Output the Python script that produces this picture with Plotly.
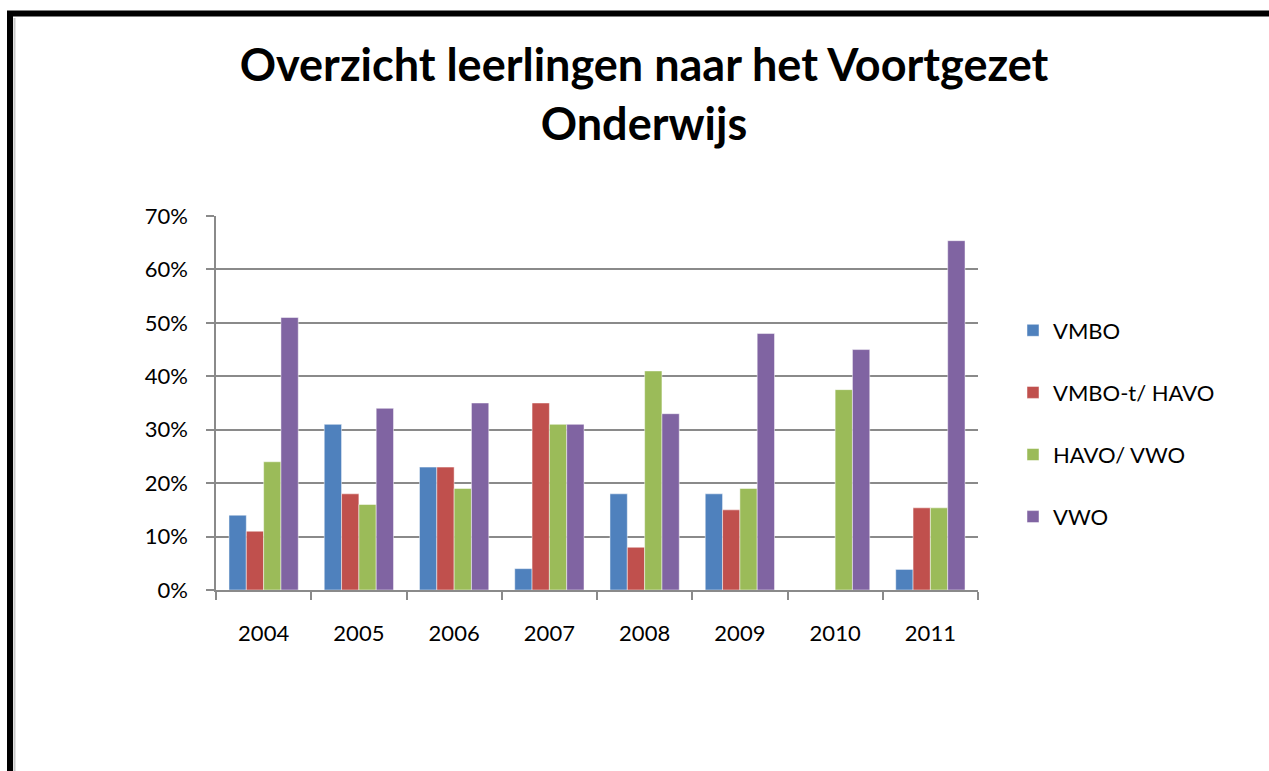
import plotly.graph_objects as go

years = ["2004", "2005", "2006", "2007", "2008", "2009", "2010", "2011"]
vmbo = [0.14, 0.31, 0.23, 0.04, 0.18, 0.18, 0.0, 0.0385]
vmbo_t_havo = [0.11, 0.18, 0.23, 0.35, 0.08, 0.15, 0.0, 0.1538]
havo_vwo = [0.24, 0.16, 0.19, 0.31, 0.41, 0.19, 0.375, 0.1538]
vwo = [0.51, 0.34, 0.35, 0.31, 0.33, 0.48, 0.45, 0.6538]

series_names = ["VMBO", "VMBO-t/ HAVO", "HAVO/ VWO", "VWO"]
series_values = [vmbo, vmbo_t_havo, havo_vwo, vwo]
colors = ["#4F81BD", "#C0504D", "#9BBB59", "#8064A2"]

W, H = 1269, 771
L, R, T, B = 216, 978, 216, 590  # plot area in pixels

fig = go.Figure()
for name, vals, col in zip(series_names, series_values, colors):
    fig.add_trace(go.Bar(
        x=years, y=vals, name=name, legendgroup=name,
        marker=dict(color=col, line=dict(color="rgba(255,255,255,0.6)", width=0.8)),
    ))

def px_x(p):
    return (p - L) / (R - L)

def px_y(p):
    return (B - p) / (B - T)

grid = "#8A8A8A"
font_family = "Lato, 'Open Sans', sans-serif"

fig.update_layout(
    width=W, height=H,
    margin=dict(l=L, r=W - R, t=T, b=H - B, pad=0),
    paper_bgcolor="white", plot_bgcolor="white",
    barmode="group", bargap=0.2727, bargroupgap=0,
    font=dict(family=font_family, color="black", size=22),
    title=dict(
        text="<b>Overzicht leerlingen naar het Voortgezet<br>Onderwijs</b>",
        font=dict(family=font_family, size=45, color="black"),
        x=644 / W, xanchor="center", xref="container",
        y=1 - 81 / H, yanchor="top", yref="container",
    ),
    showlegend=True,
    legend=dict(
        x=px_x(1013), xanchor="left", y=px_y(423.5), yanchor="middle",
        font=dict(family=font_family, size=22, color="black"),
        tracegroupgap=30.5, traceorder="grouped", bgcolor="rgba(0,0,0,0)",
    ),
    xaxis=dict(
        type="category", showgrid=False, showline=True, linecolor=grid, linewidth=1.5,
        ticks="outside", tickson="boundaries", ticklen=8, tickcolor=grid, tickwidth=1.5,
        tickfont=dict(size=22, family=font_family), ticklabelstandoff=23,
    ),
    yaxis=dict(
        range=[0, 0.7], dtick=0.1, tickformat=".0%",
        showgrid=True, gridcolor=grid, gridwidth=1.5,
        showline=True, linecolor=grid, linewidth=1.5,
        ticks="outside", ticklen=8, tickcolor=grid, tickwidth=1.5,
        tickfont=dict(size=22, family=font_family), ticklabelstandoff=14,
        zeroline=False,
    ),
    shapes=[
        dict(type="line", xref="paper", yref="paper",
             x0=px_x(14.5), x1=px_x(14.5), y0=px_y(18), y1=px_y(800),
             line=dict(color="#C8C8C8", width=2), layer="above"),
        dict(type="rect", xref="paper", yref="paper",
             x0=px_x(10), x1=px_x(1320), y0=px_y(13.5), y1=px_y(820),
             line=dict(color="black", width=6), layer="above"),
    ],
)

fig.write_html(
    "out.html",
    config={"displayModeBar": False},
    post_script="document.body.style.margin='0';document.body.style.overflow='hidden';",
)
